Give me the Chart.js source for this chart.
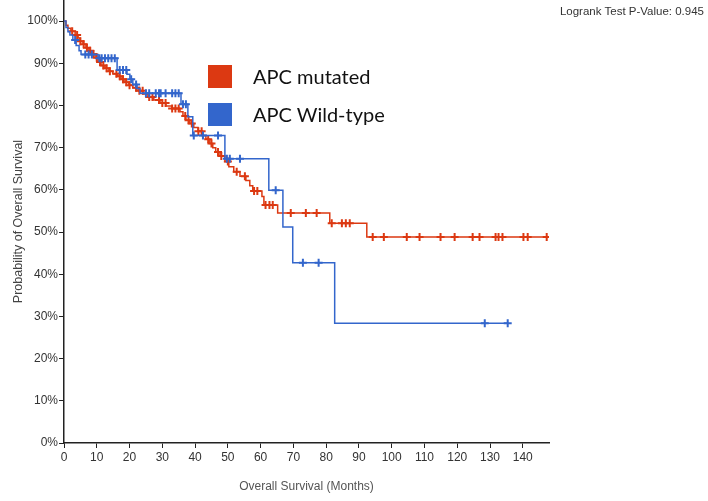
<!DOCTYPE html>
<html>
<head>
<meta charset="utf-8">
<script src="https://cdn.jsdelivr.net/npm/chart.js@4.4.0/dist/chart.umd.min.js"></script>
<style>
body { margin: 0; background: #fff; }
#wrap { position: relative; width: 708px; height: 501px; }
#pval { position: absolute; right: 4px; top: 5px; font: 11.5px "Liberation Sans", Arial, sans-serif; color: #333; }
.leg { position: absolute; left: 208px; font: 20px Lato, "Open Sans", sans-serif; color: #111; }
.leg span { display: inline-block; width: 24px; height: 23px; vertical-align: middle; margin-right: 21px; position: relative; top: -2px; }
</style>
</head>
<body>
<div id="wrap">
  <canvas id="km" width="708" height="501"></canvas>
  <div id="pval">Logrank Test P-Value: 0.945</div>
  <div class="leg" style="top:64px"><span style="background:#dc3912"></span>APC mutated</div>
  <div class="leg" style="top:102px"><span style="background:#3366cc"></span>APC Wild-type</div>
</div>
<script>
// APC mutated (red) - step curve, months / survival %
var mutTimes = [0, 0.6, 1.2, 2.1, 3.4, 4.3, 4.9, 5.8, 6.7, 7.6, 8.5, 9.5, 10.4, 11.3, 12.5, 13.7, 14.9, 16.2, 17.4, 18.6, 19.8, 21, 22.6, 24.1, 25.6, 27.4, 29.3, 31.1, 32.9, 35.4, 36.3, 37.2, 38.4, 39.6, 40.9, 42.1, 43.3, 44.5, 45.4, 46.3, 47.6, 49.1, 50.3, 51.8, 53.7, 55.5, 56.7, 57.6, 60.4, 61, 65.2, 81.1, 92.4, 147.3];
var mutSurv = [100, 99, 98.3, 97.6, 96.7, 96, 95.2, 94.5, 93.7, 93, 92.2, 91.3, 90.3, 89.5, 88.8, 88.1, 87.5, 86.9, 86.2, 85.5, 84.8, 84.2, 83.5, 82.7, 82, 81.3, 80.6, 79.9, 79.3, 78.5, 77.5, 76.5, 75.7, 74.8, 73.9, 72.9, 72, 71, 70, 69, 68, 66.7, 65.5, 64.3, 63.2, 62.2, 61, 59.7, 58.4, 56.4, 54.5, 52.1, 48.8, 48.8];
var mutCensor = [2.5, 4, 5, 6, 7, 8, 9, 10, 11, 12, 13, 14, 16, 17, 18, 19, 20, 22, 23, 24, 26, 27, 29, 30, 31, 33, 34, 35, 37, 38, 39, 41, 42, 44, 45, 47, 48, 50, 52.7, 55.2, 58, 59, 61.5, 62.7, 63.7, 69.2, 73.8, 77.1, 81.7, 84.8, 86, 87.2, 94.2, 97.6, 104.6, 108.5, 114.9, 119.2, 124.7, 126.8, 131.7, 132.6, 133.8, 140.2, 141.5, 147.3];

// APC wild-type (blue)
var wildTimes = [0, 0.6, 1.2, 1.8, 2.7, 3.7, 4.6, 5.2, 10.4, 16.2, 19.2, 20.1, 21, 22.3, 23.2, 35.7, 37.8, 39.3, 49.1, 62.5, 66.8, 69.8, 82.6, 135.4];
var wildSurv = [100, 98.5, 97.5, 96.7, 95.5, 94.2, 93, 92.1, 91.2, 88.4, 87.4, 86.2, 85, 84, 82.9, 80.3, 77.3, 72.9, 67.4, 59.9, 51.2, 42.7, 28.4, 28.4];
var wildCensor = [3.4, 6.5, 7.5, 8.5, 10.8, 11.5, 12.5, 13.5, 14.5, 15.5, 17, 18, 19, 20.5, 22, 25, 26, 28, 29, 29.5, 31, 33, 34, 35, 36.3, 37.2, 39.6, 42.4, 47, 49.7, 50.6, 53.7, 64.6, 72.9, 77.7, 128.4, 135.4];

var xTickValues = [0, 10, 20, 30, 40, 50, 60, 70, 80, 90, 100, 110, 120, 130, 140];
var yTickValues = [0, 10, 20, 30, 40, 50, 60, 70, 80, 90, 100];

var red = "#dc3912";
var blue = "#3366cc";

function stepAt(times, surv, t) {
  var v = surv[0];
  for (var i = 0; i < times.length; i++) {
    if (times[i] <= t) v = surv[i];
  }
  return v;
}
function curve(times, surv) {
  return times.map(function (t, i) { return { x: t, y: surv[i] }; });
}
function marks(times, surv, cens) {
  return cens.map(function (t) { return { x: t, y: stepAt(times, surv, t) }; });
}

Chart.defaults.font.family = '"Liberation Sans", Arial, sans-serif';
Chart.defaults.color = "#333";

new Chart("km", {
  type: "scatter",
  data: {
    datasets: [
      { data: curve(wildTimes, wildSurv), showLine: true, stepped: true, borderColor: blue, borderWidth: 1.5, pointRadius: 0 },
      { data: marks(wildTimes, wildSurv, wildCensor), pointStyle: "cross", pointRadius: 4, borderColor: blue, borderWidth: 2 },
      { data: curve(mutTimes, mutSurv), showLine: true, stepped: true, borderColor: red, borderWidth: 1.5, pointRadius: 0 },
      { data: marks(mutTimes, mutSurv, mutCensor), pointStyle: "cross", pointRadius: 4, borderColor: red, borderWidth: 2 }
    ]
  },
  options: {
    responsive: false,
    animation: false,
    layout: { autoPadding: false, padding: { left: 0, top: 0, right: 159, bottom: 0 } },
    plugins: { legend: { display: false }, tooltip: { enabled: false } },
    scales: {
      x: {
        type: "linear", min: 0, max: 148,
        afterBuildTicks: function (s) { s.ticks = xTickValues.map(function (v) { return { value: v }; }); },
        afterFit: function (s) { s.height = 58; },
        ticks: { font: { size: 12 }, padding: 2, maxRotation: 0, color: "#333" },
        grid: { drawOnChartArea: false, tickLength: 5, color: "#222", lineWidth: 1 },
        border: { color: "#222", width: 1.5 },
        title: { display: true, text: "Overall Survival (Months)", font: { size: 12 }, color: "#555", padding: { top: 0, bottom: 7 } }
      },
      y: {
        type: "linear", min: 0, max: 105,
        afterBuildTicks: function (s) { s.ticks = yTickValues.map(function (v) { return { value: v }; }); },
        afterFit: function (s) { s.width = 64; s.paddingTop = 0; },
        ticks: { font: { size: 12 }, padding: 1, color: "#333", callback: function (v) { return v + "%"; } },
        grid: { drawOnChartArea: false, tickLength: 5, color: "#222", lineWidth: 1 },
        border: { color: "#222", width: 1.5 },
        title: { display: true, text: "Probability of Overall Survival", font: { size: 12.5 }, color: "#444", padding: { top: 11, bottom: 0 } }
      }
    }
  }
});
</script>
</body>
</html>
